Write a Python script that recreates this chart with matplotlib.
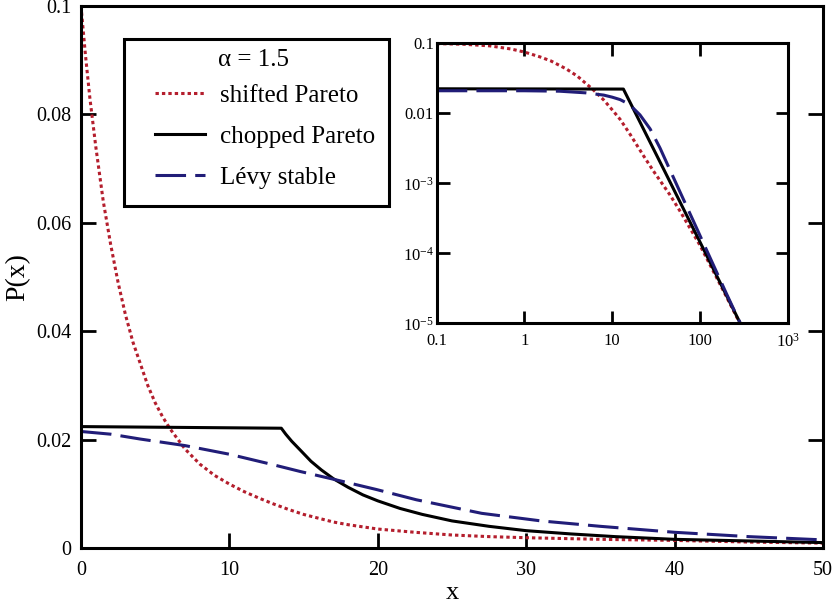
import matplotlib
matplotlib.use("Agg")
import matplotlib.pyplot as plt
from matplotlib.patches import Rectangle
from matplotlib.lines import Line2D

plt.rcParams['font.family'] = ['Liberation Serif', 'DejaVu Serif']
plt.rcParams['mathtext.fontset'] = 'custom'
plt.rcParams['mathtext.rm'] = 'Liberation Serif'

# colours of the three curves
red = '#b41e2d'
navy = '#211d78'

# ---- main panel data (linear axes) ----
x_shift = [0, 0.3, 0.6, 1.0, 1.5, 2.0, 2.5, 3.0, 3.5, 4.0, 4.5, 5.0, 5.5, 6.0,
           7.0, 8.0, 9.0, 10, 11, 12, 13, 14, 15, 16, 17, 18, 20, 22.5, 25,
           27.5, 30, 35, 40, 45, 50]
p_shift = [0.100, 0.091, 0.083, 0.074, 0.064, 0.056, 0.049, 0.043, 0.038,
           0.034, 0.030, 0.0268, 0.0242, 0.0220, 0.0183, 0.0155, 0.0134,
           0.0118, 0.0104, 0.0092, 0.0081, 0.0071, 0.0062, 0.0055, 0.0048,
           0.0043, 0.0035, 0.0029, 0.0024, 0.0021, 0.0019, 0.0016, 0.0014,
           0.0011, 0.0009]

x_chop = [0, 13.5, 13.8, 14.2, 14.8, 15.5, 16.2, 17, 18, 19, 20, 21.5, 23, 25,
          27.5, 30, 33, 36, 40, 45, 50]
p_chop = [0.0224, 0.0221, 0.0210, 0.0197, 0.0180, 0.0160, 0.0144, 0.0128,
          0.0112, 0.0098, 0.0087, 0.0073, 0.0062, 0.0050, 0.0040, 0.0032,
          0.0026, 0.0021, 0.0016, 0.0013, 0.0010]

x_levy = [0, 2, 4, 7, 10, 12.9, 14.8, 17.0, 19.9, 22.6, 27.0, 31.0, 35.0,
          40.0, 45.0, 50.0]
p_levy = [0.0215, 0.0210, 0.0201, 0.0189, 0.0173, 0.0154, 0.0141, 0.0127,
          0.0108, 0.0089, 0.0064, 0.0050, 0.0040, 0.0029, 0.0021, 0.0015]

# ---- inset data (log-log) ----
xi_shift = [0.1, 0.2, 0.4, 0.7, 1, 1.5, 2, 3, 4, 6, 8, 10, 12.3, 16, 22.6,
            30, 45.6, 60, 100, 200, 285]
pi_shift = [0.099, 0.097, 0.092, 0.083, 0.075, 0.064, 0.056, 0.043, 0.034,
            0.022, 0.0155, 0.0112, 0.0082, 0.0050, 0.0025, 0.00145, 6.8e-4,
            3.9e-4, 1.3e-4, 2.4e-5, 1.0e-5]

xi_chop = [0.1, 13.4, 40, 100, 288]
pi_chop = [0.0224, 0.0222, 1.45e-3, 1.45e-4, 1.0e-5]

xi_levy = [0.1, 1, 2.5, 5, 8, 10, 12.3, 15, 17.5, 20.7, 27, 35, 45, 59.3, 84,
           130, 200, 288]
pi_levy = [0.0210, 0.0210, 0.0207, 0.0196, 0.0182, 0.0170, 0.0157, 0.0138,
           0.0117, 0.0095, 0.0060, 0.0032, 0.0016, 7.5e-4, 2.9e-4, 8.7e-5,
           2.66e-5, 1.0e-5]

xticks_main = [0, 10, 20, 30, 40, 50]
yticks_main = [0, 0.02, 0.04, 0.06, 0.08, 0.1]
ytick_main_labels = ['0', '0.02', '0.04', '0.06', '0.08', '0.1']
xticks_in = [0.1, 1, 10, 100, 1000]
xtick_in_labels = ['0.1', '1', '10', '100', r'$\mathregular{10^{3}}$']
yticks_in = [1e-5, 1e-4, 1e-3, 0.01, 0.1]
ytick_in_labels = [r'$\mathregular{10^{-5}}$', r'$\mathregular{10^{-4}}$',
                   r'$\mathregular{10^{-3}}$', '0.01', '0.1']

labels = ['shifted Pareto', 'chopped Pareto', 'Lévy stable']

lw = 2.2
dot = (0, (1.1, 1.0))
dash = (0, (10, 3))

fig = plt.figure(figsize=(8.4, 6.04), dpi=100)
ax = fig.add_axes([0.0964, 0.0927, 0.8833, 0.8974])

ax.plot(x_shift, p_shift, color=red, lw=lw, linestyle=dot)
ax.plot(x_chop, p_chop, color='black', lw=lw)
ax.plot(x_levy, p_levy, color=navy, lw=lw, linestyle=dash)

ax.set_xlim(0, 50)
ax.set_ylim(0, 0.1)
ax.set_xticks(xticks_main)
ax.set_yticks(yticks_main)
ax.set_yticklabels(ytick_main_labels)
ax.tick_params(direction='in', length=11, width=2, labelsize=14.5,
               top=False, right=True)
ax.tick_params(axis='y', pad=7)
ax.tick_params(axis='x', pad=9)
for s in ax.spines.values():
    s.set_linewidth(2.2)
ax.set_xlabel('x', fontsize=19, labelpad=2)
ax.set_ylabel('P(x)', fontsize=20, labelpad=4)

# inset
axi = fig.add_axes([0.5199, 0.4647, 0.4179, 0.4636])
axi.loglog(xi_shift, pi_shift, color=red, lw=lw, linestyle=dot)
axi.loglog(xi_chop, pi_chop, color='black', lw=lw)
axi.loglog(xi_levy, pi_levy, color=navy, lw=lw, linestyle=dash)
axi.set_xlim(0.1, 1000)
axi.set_ylim(1e-5, 0.1)
axi.set_xticks(xticks_in)
axi.set_xticklabels(xtick_in_labels)
axi.set_yticks(yticks_in)
axi.set_yticklabels(ytick_in_labels)
axi.minorticks_off()
axi.tick_params(direction='in', length=9, width=2, labelsize=12,
                top=True, right=True)
axi.tick_params(axis='y', pad=2)
axi.tick_params(axis='x', pad=7)
for s in axi.spines.values():
    s.set_linewidth(2.2)

# legend: frame and title drawn by hand, entries by the legend itself
frame = Rectangle((0.1476, 0.659), 0.3155, 0.2765, transform=fig.transFigure,
                  facecolor='white', edgecolor='black', lw=2.2, zorder=5)
fig.patches.append(frame)
fig.text(253 / 840, 1 - 60 / 604, 'α = 1.5', fontsize=18, ha='center',
         va='center', zorder=6)
handles = [Line2D([], [], color=red, lw=lw, linestyle=dot),
           Line2D([], [], color='black', lw=lw),
           Line2D([], [], color=navy, lw=lw, linestyle=dash)]
leg = fig.legend(handles, labels, loc='upper left',
                 bbox_to_anchor=(155 / 840, 1 - 84 / 604), frameon=False,
                 fontsize=18, borderpad=0, borderaxespad=0,
                 handlelength=2.0, handletextpad=0.6, labelspacing=0.75)
leg.set_zorder(6)

fig.savefig('out.png', dpi=100)
